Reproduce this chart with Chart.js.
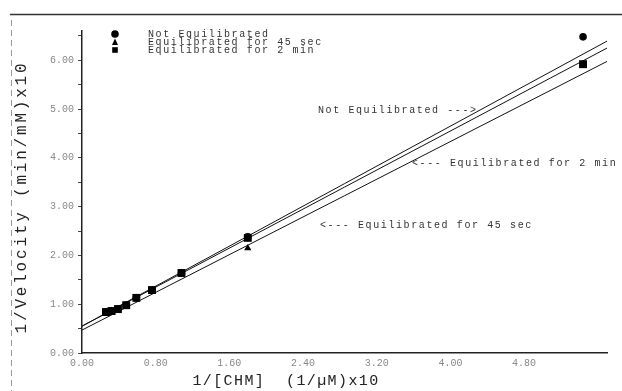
<!DOCTYPE html>
<html>
<head>
<meta charset="utf-8">
<script src="https://cdn.jsdelivr.net/npm/chart.js@4/dist/chart.umd.min.js"></script>
<style>
  html, body { margin: 0; padding: 0; background: #fff; }
  #wrap { width: 622px; height: 391px; position: relative; }
</style>
</head>
<body>
<div id="wrap"><canvas id="c"></canvas></div>
<script>
// Lineweaver-Burk data: 1/[CHM] (1/uM x10) against 1/velocity (min/mM x10)
const seriesNames = ['Not Equilibrated', 'Equilibrated for 45 sec', 'Equilibrated for 2 min'];
const invConc = [0.26, 0.32, 0.39, 0.48, 0.59, 0.76, 1.08, 1.80, 5.44];
const notEquilibrated = [0.84, 0.86, 0.90, 0.98, 1.13, 1.29, 1.64, 2.38, 6.48];
const equil45s = [0.84, 0.86, 0.90, 0.98, 1.13, 1.29, 1.64, 2.15, 5.90];
const equil2min = [0.84, 0.86, 0.90, 0.98, 1.13, 1.29, 1.64, 2.36, 5.92];

// Fitted regression lines (intercept, slope) for each series
const fitIntercepts = [0.55, 0.47, 0.55];
const fitSlopes = [1.025, 0.966, 1.0];
const fitRange = [0, 5.7];

// Axis ticks
const xTicks = [0, 0.8, 1.6, 2.4, 3.2, 4.0, 4.8];
const yTicks = [0, 0.5, 1, 1.5, 2, 2.5, 3, 3.5, 4, 4.5, 5, 5.5, 6, 6.5];
const yLabelled = [0, 1, 2, 3, 4, 5, 6];

const pointStyles = ['circle', 'triangle', 'rect'];
const pointSizes = [3.8, 4.2, 5.6];
const seriesValues = [notEquilibrated, equil45s, equil2min];

const toPoints = ys => invConc.map((x, i) => ({ x: x, y: ys[i] }));
const fitLine = k => fitRange.map(x => ({ x: x, y: fitIntercepts[k] + fitSlopes[k] * x }));

// lower "order" is painted last, so squares sit on top of circles and triangles
const datasets = [];
seriesValues.forEach((ys, k) => {
  datasets.push({
    type: 'scatter',
    label: seriesNames[k],
    data: toPoints(ys),
    pointStyle: pointStyles[k],
    pointRadius: pointSizes[k],
    pointBackgroundColor: '#000',
    pointBorderColor: '#000',
    pointBorderWidth: 0,
    showLine: false,
    order: 3 - k
  });
});
seriesValues.forEach((ys, k) => {
  datasets.push({
    type: 'line',
    label: seriesNames[k] + ' fit',
    data: fitLine(k),
    borderColor: '#111',
    borderWidth: 1,
    pointRadius: 0,
    fill: false,
    order: 10
  });
});

const FONT_SMALL = '"Liberation Mono", "DejaVu Sans Mono", monospace';

// Notes pointing at each fitted line
const notes = [
  { text: 'Not Equilibrated --->', x: 318, y: 110 },
  { text: '<--- Equilibrated for 2 min', x: 412, y: 163 },
  { text: '<--- Equilibrated for 45 sec', x: 320, y: 225 }
];

const decorPlugin = {
  id: 'decor',
  afterDraw(chart) {
    const ctx = chart.ctx;
    ctx.save();

    // page frame
    ctx.strokeStyle = '#333';
    ctx.lineWidth = 1.5;
    ctx.beginPath();
    ctx.moveTo(10, 14.5);
    ctx.lineTo(622, 14.5);
    ctx.stroke();
    ctx.strokeStyle = '#999';
    ctx.lineWidth = 1;
    ctx.setLineDash([6, 4]);
    ctx.beginPath();
    ctx.moveTo(11.5, 20);
    ctx.lineTo(11.5, 391);
    ctx.stroke();
    ctx.setLineDash([]);

    // legend
    const scatter = chart.data.datasets.filter(d => d.type === 'scatter');
    ctx.fillStyle = '#000';
    scatter.forEach((d, i) => {
      const cx = 115, cy = 34 + i * 8;
      ctx.beginPath();
      if (d.pointStyle === 'circle') {
        ctx.arc(cx, cy, 3.8, 0, Math.PI * 2);
      } else if (d.pointStyle === 'triangle') {
        ctx.moveTo(cx, cy - 3.5);
        ctx.lineTo(cx + 3, cy + 3);
        ctx.lineTo(cx - 3, cy + 3);
        ctx.closePath();
      } else {
        ctx.rect(cx - 2.8, cy - 2.8, 5.6, 5.6);
      }
      ctx.fill();
    });
    ctx.font = '10px ' + FONT_SMALL;
    ctx.letterSpacing = '1.6px';
    ctx.fillStyle = '#333';
    ctx.textBaseline = 'middle';
    ctx.textAlign = 'left';
    scatter.forEach((d, i) => {
      ctx.fillText(d.label, 148, 34 + i * 8);
    });

    // line notes
    notes.forEach(n => ctx.fillText(n.text, n.x, n.y));

    // axis titles
    ctx.fillStyle = '#222';
    ctx.textAlign = 'center';
    ctx.font = '15px ' + FONT_SMALL;
    ctx.letterSpacing = '1.4px';
    ctx.fillText('1/[CHM]  (1/\u00b5M)x10', 286, 381);

    ctx.save();
    ctx.translate(22, 197);
    ctx.rotate(-Math.PI / 2);
    ctx.font = '16px ' + FONT_SMALL;
    ctx.letterSpacing = '2.8px';
    ctx.fillText('1/Velocity (min/mM)x10', 0, 0);
    ctx.restore();

    ctx.restore();
  }
};

new Chart(document.getElementById('c'), {
  data: { datasets: datasets },
  options: {
    responsive: true,
    maintainAspectRatio: false,
    animation: false,
    layout: { padding: { left: 0, top: 31, right: 15, bottom: 0 } },
    plugins: { legend: { display: false }, tooltip: { enabled: false } },
    scales: {
      x: {
        type: 'linear',
        min: 0,
        max: 5.7,
        afterBuildTicks: s => { s.ticks = xTicks.map(v => ({ value: v })); },
        afterFit: s => { s.height = 38; },
        grid: { display: false, drawTicks: false },
        border: { display: true, color: '#222', width: 1.5 },
        ticks: {
          padding: 4,
          color: '#888',
          font: { family: FONT_SMALL, size: 10 },
          callback: v => v.toFixed(2)
        }
      },
      y: {
        type: 'linear',
        min: 0,
        max: 6.6,
        afterBuildTicks: s => { s.ticks = yTicks.map(v => ({ value: v })); },
        afterFit: s => { s.width = 82; },
        grid: { drawOnChartArea: false, tickLength: 4, color: '#444' },
        border: { display: true, color: '#222', width: 1.5 },
        ticks: {
          padding: 4,
          color: '#888',
          font: { family: FONT_SMALL, size: 10 },
          callback: v => (yLabelled.includes(v) ? v.toFixed(2) : '')
        }
      }
    }
  },
  plugins: [decorPlugin]
});
</script>
</body>
</html>
